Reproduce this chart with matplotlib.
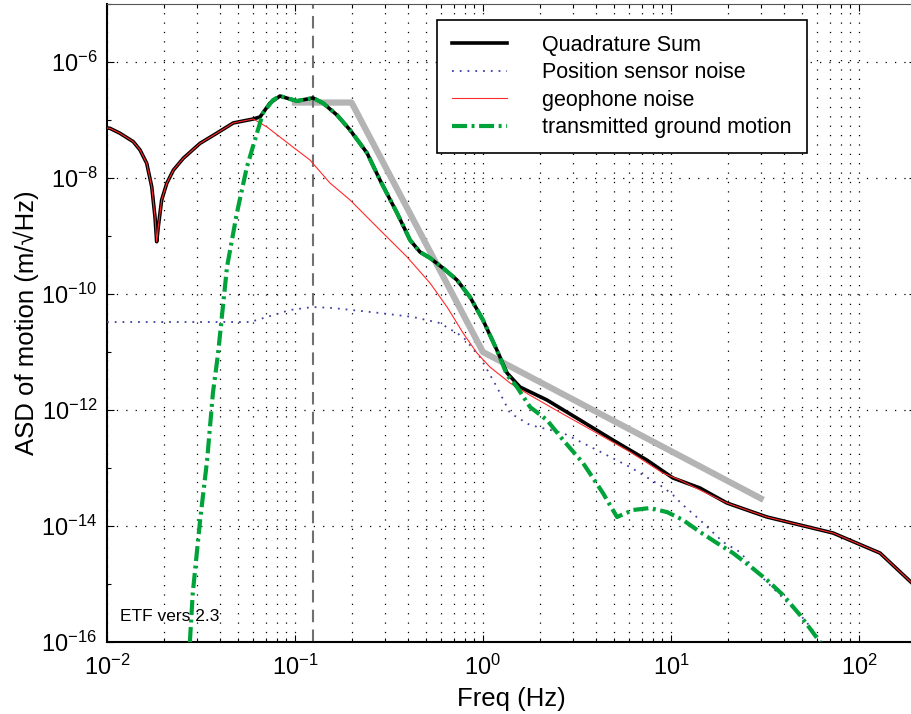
import numpy as np
import matplotlib
matplotlib.use("Agg")
import matplotlib.pyplot as plt
from matplotlib.ticker import FixedLocator, LogFormatterSciNotation, NullFormatter

plt.rcParams['font.family'] = ['Liberation Sans', 'DejaVu Sans']
plt.rcParams['mathtext.default'] = 'regular'
plt.rcParams['axes.unicode_minus'] = False

# Quadrature sum (black)
quad_f = [0.0100, 0.01037, 0.01173, 0.01380, 0.01499, 0.01627, 0.01730, 0.01800, 0.01838, 0.01875,
          0.01954, 0.02080, 0.02256, 0.02548, 0.03126, 0.03830, 0.04699, 0.05998, 0.0652, 0.0736,
          0.0832, 0.0940, 0.1025, 0.1247, 0.1409, 0.1672, 0.1963, 0.2417, 0.2831, 0.3491, 0.4092,
          0.4624, 0.5224, 0.6124, 0.7278, 0.8531, 1.0, 1.186, 1.343, 1.574, 2.188, 3.281, 4.909,
          7.447, 10.25, 14.27, 19.86, 32.43, 72.78, 129.4, 191.4, 200.0]
quad_asd = [7.28e-8, 7.19e-8, 5.90e-8, 4.23e-8, 3.04e-8, 1.79e-8, 7.08e-9, 2.15e-9, 7.98e-10, 1.45e-9,
            4.18e-9, 8.11e-9, 1.37e-8, 2.19e-8, 3.96e-8, 5.90e-8, 8.9e-8, 1.04e-7, 1.13e-7, 1.96e-7,
            2.59e-7, 2.30e-7, 2.13e-7, 2.40e-7, 1.96e-7, 1.22e-7, 6.73e-8, 2.70e-8, 9.24e-9, 2.49e-9,
            8.53e-10, 5.30e-10, 4.18e-10, 2.81e-10, 1.74e-10, 8.87e-11, 3.56e-11, 1.08e-11, 4.35e-12,
            2.49e-12, 1.49e-12, 6.73e-13, 3.04e-13, 1.37e-13, 6.73e-14, 4.52e-14, 2.49e-14, 1.43e-14,
            7.58e-15, 3.42e-15, 1.04e-15, 9.0e-16]

# Position sensor noise (blue dotted)
ps_f = [0.0100, 0.0577, 0.0709, 0.0940, 0.1247, 0.1592, 0.2831, 0.4249, 0.5902, 0.7834, 0.9644,
        1.186, 1.393, 1.778, 2.667, 4.037, 6.053, 9.057, 10.25, 11.59, 14.27, 18.92, 23.28, 29.72,
        41.88, 51.6, 63.5]
ps_asd = [3.29e-11, 3.29e-11, 4.01e-11, 5.30e-11, 5.97e-11, 5.74e-11, 4.70e-11, 4.01e-11, 3.16e-11,
          1.82e-11, 8.20e-12, 2.49e-12, 8.87e-13, 5.51e-13, 4.01e-13, 2.04e-13, 1.04e-13, 4.70e-14,
          3.42e-14, 2.30e-14, 1.27e-14, 5.30e-15, 3.56e-15, 1.43e-15, 4.70e-16, 2.39e-16, 1.0e-16]

# geophone noise (red)
geo_f = [0.0100, 0.01037, 0.01173, 0.01380, 0.01499, 0.01627, 0.01730, 0.01800, 0.01838, 0.01875,
         0.01954, 0.02080, 0.02256, 0.02548, 0.03126, 0.03830, 0.04699, 0.05998, 0.0710, 0.0832,
         0.0975, 0.1202, 0.1535, 0.1963, 0.2831, 0.3948, 0.5224, 0.6442, 0.7834, 0.9290, 1.089,
         1.393, 1.778, 2.667, 4.037, 6.053, 9.057, 11.17, 14.27, 19.86, 32.43, 72.78, 129.4,
         191.4, 200.0]
geo_asd = [7.28e-8, 7.19e-8, 5.90e-8, 4.23e-8, 3.04e-8, 1.79e-8, 7.08e-9, 2.15e-9, 7.98e-10, 1.45e-9,
           4.18e-9, 8.11e-9, 1.37e-8, 2.19e-8, 3.96e-8, 5.90e-8, 8.9e-8, 1.04e-7, 7.57e-8, 5.09e-8,
           3.42e-8, 2.04e-8, 8.20e-9, 4.18e-9, 1.27e-9, 4.35e-10, 1.55e-10, 5.97e-11, 2.13e-11,
           9.61e-12, 5.51e-12, 2.92e-12, 1.80e-12, 8.5e-13, 4.0e-13, 1.9e-13, 8.2e-14, 6.2e-14,
           4.18e-14, 2.49e-14, 1.43e-14, 7.58e-15, 3.42e-15, 1.04e-15, 9.0e-16]

# transmitted ground motion (green dash-dot)
gm_f = [0.0276, 0.0286, 0.0313, 0.0341, 0.0366, 0.0389, 0.0435, 0.0491, 0.0555, 0.0628, 0.0676,
        0.0764, 0.0832, 0.0940, 0.1025, 0.1247, 0.1409, 0.1672, 0.1963, 0.2417, 0.2831, 0.3491,
        0.4092, 0.4624, 0.5224, 0.6124, 0.7278, 0.8531, 1.0, 1.186, 1.343, 1.517, 1.778, 2.188,
        2.667, 3.404, 4.345, 5.164, 6.280, 7.727, 9.528, 11.59, 14.27, 17.57, 21.37, 26.31, 32.43,
        39.45, 48.56, 62.05]
gm_asd = [1.0e-16, 7.0e-16, 1.27e-14, 1.37e-13, 1.96e-12, 8.87e-12, 2.92e-10, 2.49e-9, 1.55e-8,
          5.97e-8, 1.32e-7, 2.21e-7, 2.59e-7, 2.30e-7, 2.13e-7, 2.40e-7, 1.96e-7, 1.22e-7, 6.73e-8,
          2.70e-8, 9.24e-9, 2.49e-9, 8.53e-10, 5.30e-10, 4.18e-10, 2.81e-10, 1.74e-10, 8.87e-11,
          3.56e-11, 1.08e-11, 4.0e-12, 2.49e-12, 1.13e-12, 6.73e-13, 3.04e-13, 1.22e-13, 3.71e-14,
          1.43e-14, 1.89e-14, 2.04e-14, 1.74e-14, 1.27e-14, 7.9e-15, 5.09e-15, 3.42e-15, 2.04e-15,
          1.17e-15, 6.46e-16, 2.92e-16, 1.0e-16]

# requirement line (gray)
spec_f = [0.1, 0.2, 1.0, 30.0]
spec_asd = [2e-7, 2e-7, 1e-11, 3e-14]

marker_freq = 0.125

fig = plt.figure(figsize=(9.12, 7.14), dpi=100)
ax = fig.add_axes([0.1173, 0.1008, 0.8866, 0.8936])

ax.loglog(spec_f, spec_asd, color='#b4b4b4', lw=4.5, zorder=2)
ax.axvline(marker_freq, color='#707070', lw=1.5, dashes=(6, 3.5), zorder=2.5)
ax.loglog(quad_f, quad_asd, color='k', lw=2.6, label='Quadrature Sum', zorder=3)
ax.loglog(ps_f, ps_asd, color='#4040a0', lw=1.3, ls=(0, (1, 3.3)),
          label='Position sensor noise', zorder=4)
ax.loglog(geo_f, geo_asd, color='#ff2a2a', lw=0.8, label='geophone noise', zorder=5)
ax.loglog(gm_f, gm_asd, color='#00a33a', lw=3, ls=(0, (3.6, 1.1, 0.7, 1.1)),
          label='transmitted ground motion', zorder=6)

ax.set_xlim(1e-2, 200)
ax.set_ylim(1e-16, 1e-5)

ax.yaxis.set_major_locator(FixedLocator([10.0 ** e for e in range(-16, -5, 2)]))
ax.yaxis.set_minor_locator(FixedLocator([10.0 ** e for e in range(-15, -4, 2)]))
ax.yaxis.set_major_formatter(LogFormatterSciNotation())
ax.yaxis.set_minor_formatter(NullFormatter())

grid_kw = dict(color='k', lw=0.9, ls=(0, (1, 6.5)))
ax.grid(True, which='both', axis='x', **grid_kw)
ax.grid(True, which='major', axis='y', **grid_kw)

ax.tick_params(which='both', direction='in', top=True, right=True, width=0.8)
ax.tick_params(which='major', length=5, labelsize=17)
ax.tick_params(which='minor', length=3)
ax.tick_params(axis='x', which='major', pad=9)
ax.tick_params(axis='y', which='major', pad=7)
for side in ['left', 'bottom']:
    ax.spines[side].set_linewidth(1.5)
ax.spines['top'].set_color('#555555')

ax.set_xlabel('Freq (Hz)', fontsize=18.5)
ax.set_ylabel('ASD of motion (m/\u221aHz)', fontsize=18.5)
ax.xaxis.set_label_coords(0.5, -0.07)
ax.yaxis.set_label_coords(-0.084, 0.5)

leg = ax.legend(loc='upper right', bbox_to_anchor=(0.8657, 0.975), fontsize=15.5,
                fancybox=False, framealpha=1, edgecolor='k', handlelength=2.56,
                handletextpad=1.63, labelspacing=0.3, borderpad=0.7, borderaxespad=0)
leg.get_frame().set_linewidth(1.2)

ax.text(0.016, 0.033, 'ETF vers 2.3', transform=ax.transAxes, fontsize=12.5, zorder=7)

fig.savefig('out.png', dpi=100)
